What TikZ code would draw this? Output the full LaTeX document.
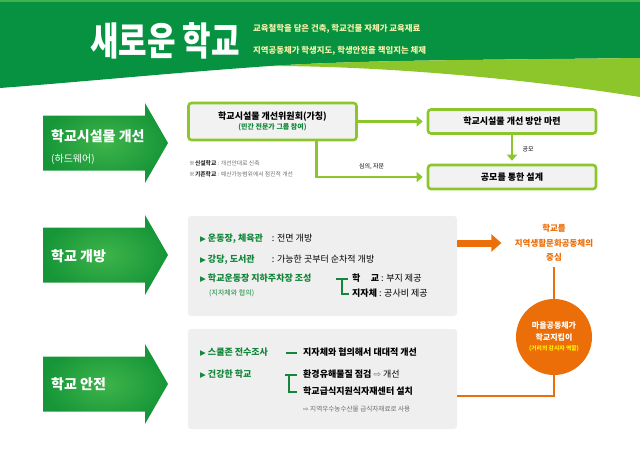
\documentclass[tikz,border=0pt]{standalone}
\usepackage{fontspec}
\setmainfont{Noto Sans CJK KR}
\newfontfamily\symfont{DejaVu Sans}
\usetikzlibrary{arrows.meta,positioning}

\definecolor{headgreen}{RGB}{6,146,64}
\definecolor{lime}{RGB}{141,198,42}
\definecolor{arrowdark}{RGB}{22,150,56}
\definecolor{arrowlight}{RGB}{62,180,74}
\definecolor{textgreen}{RGB}{18,135,58}
\definecolor{orange}{RGB}{236,110,8}
\definecolor{panelgray}{RGB}{239,239,239}
\definecolor{boxgray}{RGB}{242,242,242}
\definecolor{paleyellow}{RGB}{246,241,168}
\definecolor{notegray}{RGB}{110,110,110}

\newcommand{\tri}{{\symfont\fontsize{7.5}{7.5}\selectfont\color{textgreen}▶}\ }

\begin{document}
\begin{tikzpicture}[x=1pt, y=-1pt,
    box/.style={draw=lime, line width=2.6pt, rounded corners=3pt, fill=boxgray, minimum width=168pt, align=center, font=\bfseries\fontsize{9}{12}\selectfont},
    flow/.style={draw=lime, line width=2.6pt, -{Triangle[length=6pt,width=10pt]}},
    panel/.style={fill=panelgray, rounded corners=3pt, minimum width=269pt, minimum height=100pt},
    item/.style={anchor=west, inner sep=0pt, text height=7pt, text depth=2pt, font=\fontsize{9}{11}\selectfont},
    bracket/.style={draw=textgreen, line width=1.1pt},
    arrowtext/.style={anchor=west, text=white, inner sep=0pt, font=\bfseries\fontsize{14}{16}\selectfont},
    orangeline/.style={draw=orange, line width=2pt}]
    \useasboundingbox (0,0) rectangle (640,464);

    % Header band
    \fill[headgreen] (0,0) -- (640,0) -- (640,58) .. controls (480,60) and (360,60) .. (270,66) .. controls (170,73) and (80,82) .. (0,88) -- cycle;
    \fill[lime] (270,66) .. controls (360,60) and (480,60) .. (640,58) -- (640,97) .. controls (520,78) and (380,66) .. (270,66) -- cycle;
    \fill[arrowlight] (0,0) rectangle (640,2);
    \node (title) [text=white, font=\bfseries\fontsize{31}{34}\selectfont] at (165,41) {\scalebox{1}[1.25]{새로운 학교}};
    \node (sub1) [anchor=west, inner sep=0pt, text=paleyellow, font=\bfseries\fontsize{8.4}{10}\selectfont] at (253,29) {교육철학을 담은 건축, 학교건물 자체가 교육재료};
    \node (sub2) [anchor=west, inner sep=0pt, text=paleyellow, font=\bfseries\fontsize{8.4}{10}\selectfont] at (253,51) {지역공동체가 학생지도, 학생안전을 책임지는 체제};

    % Big arrows
    \foreach \y in {143,255,384} {
        \shade[inner color=arrowlight, outer color=arrowdark] (43,\y-27.5) -- (145,\y-27.5) -- (145,\y-40) -- (168,\y) -- (145,\y+40) -- (145,\y+27.5) -- (43,\y+27.5) -- cycle;
    }
    \node (hw) [arrowtext] at (51,136) {학교시설물 개선};
    \node (hwsub) [arrowtext, font=\fontsize{10}{12}\selectfont] at (51,159) {(하드웨어)};
    \node (openlabel) [arrowtext] at (51,256) {학교 개방};
    \node (safelabel) [arrowtext] at (51,384) {학교 안전};

    % Facilities
    \node (committee) [box, minimum height=37pt] at (272.5,121.5) {학교시설물 개선위원회(가칭)\\[-2pt]{\color{textgreen}\fontsize{7}{8}\selectfont (민간 전문가 그룹 참여)}};
    \node (plan) [box, minimum height=24pt] at (512,121.5) {학교시설물 개선 방안 마련};
    \node (design) [box, minimum height=24pt] at (512,177) {공모를 통한 설계};
    \draw[flow, shorten >=4pt] (committee.east |- plan) -- (plan.west);
    \draw[flow, shorten >=4pt] ([xshift=44pt]committee.south) |- (design.west) node[pos=0.75, above=3pt, text=black, font=\fontsize{6}{7}\selectfont] {심의, 자문};
    \draw[flow, shorten >=3pt] (plan) -- (design) node[midway, right=6pt, text=black, font=\fontsize{6}{7}\selectfont] {공모};
    \node (newschool) [anchor=west, inner sep=0pt, text=notegray, font=\fontsize{5.8}{7}\selectfont] at (189,163) {{\color{black!80}※\textbf{신설학교}} : 개선안대로 신축};
    \node (oldschool) [anchor=west, inner sep=0pt, text=notegray, font=\fontsize{5.8}{7}\selectfont] at (189,174) {{\color{black!80}※\textbf{기존학교}} : 예산가능범위에서 점진적 개선};

    % Opening
    \node (open) [panel] at (322.5,266) {};
    \node (gym) [item] at (200,239) {\tri\makebox[64pt][l]{\textcolor{textgreen}{\textbf{운동장, 체육관}}}: 전면 개방};
    \node (hall) [item] at (200,260) {\tri\makebox[64pt][l]{\textcolor{textgreen}{\textbf{강당, 도서관}}}: 가능한 곳부터 순차적 개방};
    \node (park) [item] at (200,279) {\tri\textcolor{textgreen}{\textbf{학교운동장 지하주차장 조성}}};
    \node (parksub) [item, text=textgreen, font=\fontsize{7}{8}\selectfont] at (209,293) {(지자체와 협의)};
    \node (site) [item] at (352,279) {\makebox[27pt][s]{\textbf{학}\hfill\textbf{교}} : 부지 제공};
    \node (cost) [item] at (352,294) {\textbf{지자체} : 공사비 제공};
    \draw[bracket] ([xshift=-16pt]site.west) -- ([xshift=-4pt]site.west);
    \draw[bracket] ([xshift=-10pt]site.west) |- ([xshift=-3pt]cost.west);

    % Community hub
    \node (hub) [align=center, text=orange, font=\bfseries\fontsize{8.5}{14.5}\selectfont] at (554,243) {학교를\\지역생활문화공동체의\\중심};
    \draw[draw=orange, line width=7pt, -{Triangle[length=10pt,width=17pt]}] (open.east |- hub) -- ([xshift=-10pt]hub.west);
    \node (guard) [circle, fill=orange, minimum size=76pt, inner sep=0pt, align=center, text=white, font=\bfseries\fontsize{8}{12}\selectfont] at (554,337) {마을공동체가\\학교지킴이\\[-2pt]{\color{yellow}\fontsize{5.8}{7}\selectfont(거리의 감시자 역할)}};
    \draw[orangeline, shorten <=2pt] (hub.south) -- (guard.north);

    % Safety
    \node (safe) [panel] at (322.5,379) {};
    \coordinate (joint) at (554,396);
    \draw[orangeline] (guard.south) -- (joint) -- (joint -| safe.east);
    \node (zone) [item] at (200,353) {\tri\textcolor{textgreen}{\textbf{스쿨존 전수조사}}};
    \node (zonefix) [item] at (303,353) {\textbf{지자체와 협의해서 대대적 개선}};
    \draw[bracket] ([xshift=-17pt]zonefix.west) -- ([xshift=-6pt]zonefix.west);
    \node (health) [item] at (200,375) {\tri\textcolor{textgreen}{\textbf{건강한 학교}}};
    \node (env) [item] at (303,375) {\textbf{환경유해물질 점검} {\symfont\color{notegray}⇨} 개선};
    \node (center) [item] at (303,392) {\textbf{학교급식지원식자재센터 설치}};
    \node (local) [item, text=notegray, font=\fontsize{6.6}{8}\selectfont] at (303,409) {{\symfont ⇨} 지역우수농수산물 급식자재료로 사용};
    \draw[bracket] ([xshift=-18pt]env.west) -- ([xshift=-6pt]env.west);
    \draw[bracket] ([xshift=-14pt]env.west) |- ([xshift=-6pt]center.west);
\end{tikzpicture}
\end{document}
